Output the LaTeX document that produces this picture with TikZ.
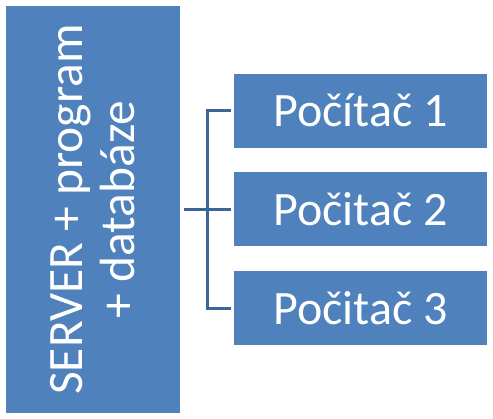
\documentclass[tikz,border=0pt]{standalone}
\usepackage{fontspec}
\newfontfamily\boxfont{Carlito}
\usetikzlibrary{positioning,calc}
\definecolor{boxblue}{HTML}{4F81BD}
\definecolor{lineblue}{HTML}{3D6598}
\tikzset{every picture/.style={line width=0.75pt}}
\tikzset{
    box/.style={rectangle, fill=boxblue, text=white, inner sep=0pt, align=center,
                font=\boxfont\fontsize{48}{52}\selectfont},
    pcbox/.style={box, minimum width=253pt, minimum height=74pt},
    conn/.style={draw=lineblue, line width=3pt}}

\begin{document}
\begin{tikzpicture}[x=1pt,y=1pt,yscale=-1,xscale=1]
            \useasboundingbox (0,0) rectangle (493,419);

            %Server (text runs bottom to top, so .south is the right side)
            \node [box] [rotate=90] [minimum width=407pt, minimum height=174pt] [font=\boxfont\fontsize{49.5}{52}\selectfont] (server) at (93,209.5) {SERVER + program\\+ databáze};

            %Computers
            \node [pcbox] (pc2) at (360.5,209.5) {Počitač 2};
            \node [pcbox] [above=24pt of pc2] (pc1) {Počítač 1};
            \node [pcbox] [below=24pt of pc2] (pc3) {Počitač 3};

            %Lines
            \coordinate (bus) at ($(server.south)!0.5!(pc2.west)$);
            \draw [conn] [shorten <=4pt, shorten >=3pt] (server.south) -- (pc2.west);
            \draw [conn] [shorten <=3pt, shorten >=3pt] (pc1.west) -| (bus) |- (pc3.west);
        \end{tikzpicture}
\end{document}
